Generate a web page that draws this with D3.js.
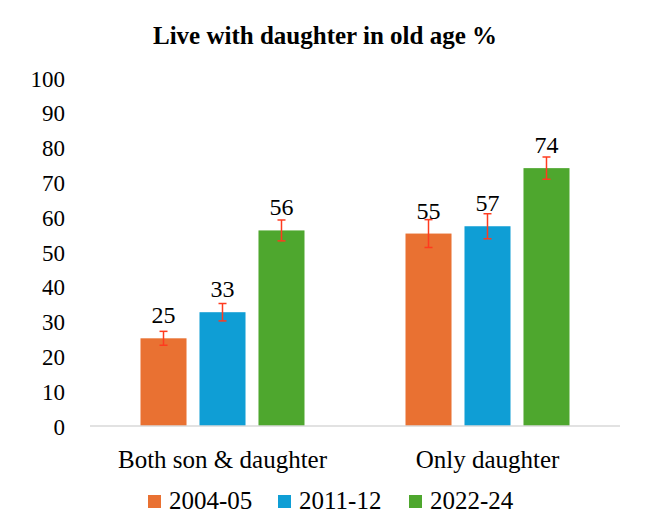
<!DOCTYPE html>
<html><head><meta charset="utf-8"><script src="https://cdn.jsdelivr.net/npm/d3@7"></script></head>
<body style="margin:0">
<svg id="chart" width="664" height="532"></svg>
<script>
const title = "Live with daughter in old age %";
const categories = ["Both son & daughter", "Only daughter"];
const seriesNames = ["2004-05", "2011-12", "2022-24"];
const values2004 = [25.2, 55.3];
const values2011 = [32.7, 57.4];
const values2022 = [56.2, 74.1];
const err2004 = [2.0, 4.0];
const err2011 = [2.5, 3.6];
const err2022 = [3.0, 3.2];
const colors = ["#E97132", "#0F9ED5", "#4EA72E"];
const yTicks = [0, 10, 20, 30, 40, 50, 60, 70, 80, 90, 100];

const seriesValues = [values2004, values2011, values2022];
const seriesErrs = [err2004, err2011, err2022];
const FONT = "Liberation Serif";

const svg = d3.select("#chart");
const plotLeft = 90, plotRight = 620, plotTop = 78, plotBottom = 426;

const x0 = d3.scaleBand().domain(categories).range([plotLeft, plotRight]).paddingInner(0).paddingOuter(0);
const x1 = d3.scaleBand().domain(seriesNames).range([0, x0.bandwidth()]).paddingInner(0.22).paddingOuter(0.856);
const y = d3.scaleLinear().domain([0, 100]).range([plotBottom, plotTop]);

// title
svg.append("text").attr("x", 325).attr("y", 44).attr("text-anchor", "middle")
  .attr("font-family", FONT).attr("font-size", 25).attr("font-weight", "bold").attr("fill", "#000").text(title);

// y axis (labels only)
const yAxis = d3.axisLeft(y).tickValues(yTicks).tickSize(0).tickPadding(0);
const yg = svg.append("g").attr("transform", "translate(65,0)").call(yAxis);
yg.select(".domain").remove();
yg.selectAll("text").attr("font-family", FONT).attr("font-size", 23).attr("fill", "#000").attr("dy", "0.35em");

// bars
const data = [];
seriesNames.forEach((s, si) => {
  categories.forEach((c, ci) => {
    data.push({ s, si, c, v: seriesValues[si][ci], e: seriesErrs[si][ci] });
  });
});

svg.append("g").selectAll("rect").data(data).join("rect")
  .attr("x", d => x0(d.c) + x1(d.s))
  .attr("width", x1.bandwidth())
  .attr("y", d => y(d.v))
  .attr("height", d => y(0) - y(d.v))
  .attr("fill", d => colors[d.si]);

// baseline
svg.append("line").attr("x1", plotLeft).attr("x2", plotRight).attr("y1", y(0)).attr("y2", y(0))
  .attr("stroke", "#d9d9d9").attr("stroke-width", 1.5);

// error bars
const eg = svg.append("g").attr("stroke", "#FF3B1F").attr("stroke-width", 1.5);
data.forEach(d => {
  const cx = x0(d.c) + x1(d.s) + x1.bandwidth() / 2;
  eg.append("line").attr("x1", cx).attr("x2", cx).attr("y1", y(d.v + d.e)).attr("y2", y(d.v - d.e));
  eg.append("line").attr("x1", cx - 4).attr("x2", cx + 4).attr("y1", y(d.v + d.e)).attr("y2", y(d.v + d.e));
  eg.append("line").attr("x1", cx - 4).attr("x2", cx + 4).attr("y1", y(d.v - d.e)).attr("y2", y(d.v - d.e));
});

// data labels
data.forEach(d => {
  svg.append("text")
    .attr("x", x0(d.c) + x1(d.s) + x1.bandwidth() / 2)
    .attr("y", y(d.v) - 15)
    .attr("text-anchor", "middle")
    .attr("font-family", FONT).attr("font-size", 24)
    .attr("fill", "#000")
    .text(Math.round(d.v));
});

// category labels
const xAxis = d3.axisBottom(x0).tickSize(0).tickPadding(0);
const xg = svg.append("g").attr("transform", `translate(0,${plotBottom})`).call(xAxis);
xg.select(".domain").remove();
xg.selectAll("text").attr("font-family", FONT).attr("font-size", 25).attr("fill", "#000").attr("dy", "0").attr("y", 42);

// legend
const legendX = [148, 278, 409];
seriesNames.forEach((s, i) => {
  svg.append("rect").attr("x", legendX[i]).attr("y", 495).attr("width", 13).attr("height", 13).attr("fill", colors[i]);
  svg.append("text").attr("x", legendX[i] + 21).attr("y", 509)
    .attr("font-family", FONT).attr("font-size", 25).attr("fill", "#000").text(s);
});
</script>
</body>
</html>
